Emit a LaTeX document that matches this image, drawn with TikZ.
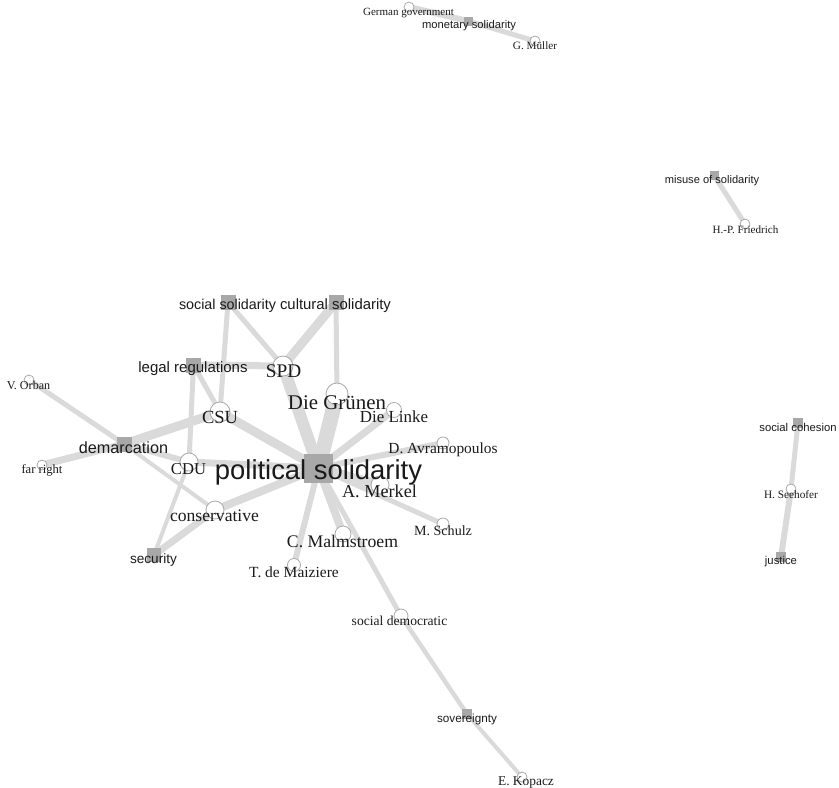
\documentclass[tikz,border=0pt]{standalone}
\usepackage{fontspec}
\setmainfont{Liberation Serif}
\setsansfont{Liberation Sans}
\usepackage{tikz}
\definecolor{edgegray}{HTML}{DADADA}
\definecolor{boxgray}{HTML}{A8A8A8}
\definecolor{ringgray}{HTML}{A8A8A8}
\definecolor{txt}{HTML}{1A1A1A}
\pgfdeclarelayer{edges}
\pgfdeclarelayer{texts}
\pgfsetlayers{edges,main,texts}
\tikzset{
  actor/.style={circle, draw=ringgray, line width=0.8pt, fill=white, inner sep=0pt, minimum size=#1pt},
  topic/.style={rectangle, fill=boxgray, inner sep=0pt, minimum size=#1pt},
  link/.style={draw=edgegray, line width=#1pt},
  rmlbl/.style={anchor=base, inner sep=0pt, text=txt, font=\fontsize{#1}{#1}\selectfont\rmfamily},
  sflbl/.style={anchor=base, inner sep=0pt, text=txt, font=\fontsize{#1}{#1}\selectfont\sffamily},
}

\begin{document}
\begin{tikzpicture}[x=1pt,y=-1pt]
      \useasboundingbox (0,0) rectangle (839,788);
      % topics
      \node[topic=29] (ps) at (318.5,468) {};
      \node[topic=15] (socsol) at (228,302) {};
      \node[topic=15] (cultsol) at (336,302) {};
      \node[topic=15] (legal) at (193.5,365) {};
      \node[topic=15] (demarc) at (124,444) {};
      \node[topic=14] (secur) at (154,555) {};
      \node[topic=10] (sover) at (467,714) {};
      \node[topic=9] (monsol) at (468,21) {};
      \node[topic=9] (misuse) at (714,175) {};
      \node[topic=10] (cohesion) at (798,423) {};
      \node[topic=10] (justice) at (781,557) {};
      % actors
      \node[actor=20] (spd) at (283,366) {};
      \node[actor=22] (gruene) at (337,394) {};
      \node[actor=15] (linke) at (394,410) {};
      \node[actor=12] (avramo) at (443,443) {};
      \node[actor=18] (merkel) at (380,485) {};
      \node[actor=12] (schulz) at (443,524) {};
      \node[actor=16] (malm) at (343,534) {};
      \node[actor=13] (maiziere) at (294,565) {};
      \node[actor=14] (socdem) at (401,616) {};
      \node[actor=10] (kopacz) at (522,777) {};
      \node[actor=20] (csu) at (220,412) {};
      \node[actor=18] (cdu) at (189,462) {};
      \node[actor=18] (cons) at (215,510) {};
      \node[actor=10] (farright) at (42,465) {};
      \node[actor=10] (orban) at (29,380) {};
      \node[actor=10] (germgov) at (409,7) {};
      \node[actor=10] (mueller) at (535,41) {};
      \node[actor=10] (friedrich) at (745,224) {};
      \node[actor=10] (seehofer) at (791,489) {};
      % links
      \begin{pgfonlayer}{edges}
      \draw[link=15] (ps.center) -- (gruene.center);
      \draw[link=12] (ps.center) -- (spd.center);
      \draw[link=9] (ps.center) -- (csu.center);
      \draw[link=7] (ps.center) -- (cdu.center);
      \draw[link=8] (ps.center) -- (cons.center);
      \draw[link=7] (ps.center) -- (linke.center);
      \draw[link=6] (ps.center) -- (avramo.center);
      \draw[link=9] (ps.center) -- (merkel.center);
      \draw[link=5] (ps.center) -- (schulz.center);
      \draw[link=8] (ps.center) -- (malm.center);
      \draw[link=6] (ps.center) -- (maiziere.center);
      \draw[link=5] (ps.center) -- (socdem.center);
      \draw[link=4.5] (socdem.center) -- (sover.center);
      \draw[link=4] (sover.center) -- (kopacz.center);
      \draw[link=9] (cultsol.center) -- (spd.center);
      \draw[link=5] (cultsol.center) -- (gruene.center);
      \draw[link=5] (socsol.center) -- (spd.center);
      \draw[link=5] (socsol.center) -- (csu.center);
      \draw[link=7] (legal.center) -- (spd.center);
      \draw[link=5] (legal.center) -- (csu.center);
      \draw[link=5] (legal.center) -- (cdu.center);
      \draw[link=9] (csu.center) -- (demarc.center);
      \draw[link=5] (demarc.center) -- (orban.center);
      \draw[link=7] (demarc.center) -- (farright.center);
      \draw[link=6] (demarc.center) -- (cdu.center);
      \draw[link=4] (demarc.center) -- (cons.center);
      \draw[link=7] (cons.center) -- (secur.center);
      \draw[link=4] (cdu.center) -- (secur.center);
      \draw[link=6] (germgov.center) -- (monsol.center);
      \draw[link=5] (monsol.center) -- (mueller.center);
      \draw[link=5] (misuse.center) -- (friedrich.center);
      \draw[link=5] (cohesion.center) -- (seehofer.center);
      \draw[link=6] (seehofer.center) -- (justice.center);
      \end{pgfonlayer}
      % labels
      \begin{pgfonlayer}{texts}
      \node[sflbl=27.4] (ps-l) at (318.5,479) {political solidarity};
      \node[sflbl=14.3] (socsol-l) at (227.5,309) {social solidarity};
      \node[sflbl=14.9] (cultsol-l) at (335.5,309) {cultural solidarity};
      \node[sflbl=15] (legal-l) at (193,372) {legal regulations};
      \node[sflbl=16.2] (demarc-l) at (123.5,453) {demarcation};
      \node[sflbl=13.6] (secur-l) at (153.5,563) {security};
      \node[sflbl=11.7] (sover-l) at (467,722) {sovereignty};
      \node[sflbl=11.2] (monsol-l) at (469,28) {monetary solidarity};
      \node[sflbl=11.1] (misuse-l) at (712,183) {misuse of solidarity};
      \node[sflbl=11.3] (cohesion-l) at (798,431) {social cohesion};
      \node[sflbl=11.3] (justice-l) at (781,564) {justice};
      \node[rmlbl=19.3] (spd-l) at (283.5,377) {SPD};
      \node[rmlbl=20.9] (gruene-l) at (337,409) {Die Grünen};
      \node[rmlbl=16.9] (linke-l) at (394,422) {Die Linke};
      \node[rmlbl=15.4] (avramo-l) at (443,453) {D. Avramopoulos};
      \node[rmlbl=18.2] (merkel-l) at (379.5,497) {A. Merkel};
      \node[rmlbl=14.1] (schulz-l) at (443,535) {M. Schulz};
      \node[rmlbl=17.7] (malm-l) at (342.5,547) {C. Malmstroem};
      \node[rmlbl=15.5] (maiziere-l) at (294,577) {T. de Maiziere};
      \node[rmlbl=13.6] (socdem-l) at (399.5,625) {social democratic};
      \node[rmlbl=13.4] (kopacz-l) at (526,785) {E. Kopacz};
      \node[rmlbl=18.5] (csu-l) at (220,423) {CSU};
      \node[rmlbl=16.6] (cdu-l) at (188.5,474) {CDU};
      \node[rmlbl=17.6] (cons-l) at (214.5,521) {conservative};
      \node[rmlbl=12.6] (farright-l) at (42,473) {far right};
      \node[rmlbl=12.1] (orban-l) at (28.5,389) {V. Orban};
      \node[rmlbl=11] (germgov-l) at (408.5,15) {German government};
      \node[rmlbl=11.2] (mueller-l) at (535,49) {G. Müller};
      \node[rmlbl=11.1] (friedrich-l) at (745.5,233) {H.-P. Friedrich};
      \node[rmlbl=11.3] (seehofer-l) at (791,498) {H. Seehofer};
      \end{pgfonlayer}
\end{tikzpicture}
\end{document}
